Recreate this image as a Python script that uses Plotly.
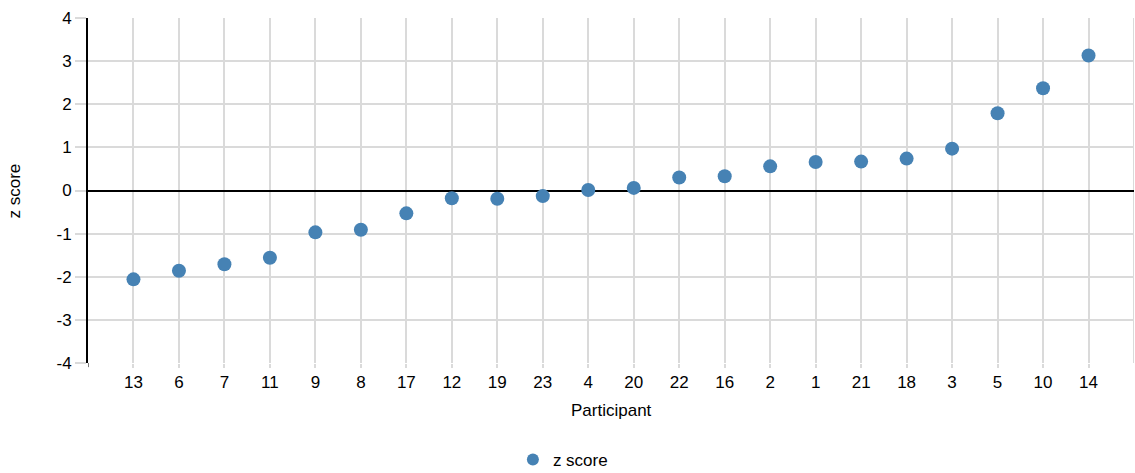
import plotly.graph_objects as go

participants = ["13", "6", "7", "11", "9", "8", "17", "12", "19", "23", "4",
                "20", "22", "16", "2", "1", "21", "18", "3", "5", "10", "14"]
z_scores = [-2.06, -1.86, -1.71, -1.56, -0.97, -0.91, -0.53, -0.18, -0.19, -0.13, 0.01,
            0.06, 0.30, 0.33, 0.56, 0.66, 0.67, 0.74, 0.97, 1.79, 2.37, 3.13]
y_ticks = [-4, -3, -2, -1, 0, 1, 2, 3, 4]

FONT = "Liberation Sans, Arial, sans-serif"
GRID = "#dadada"
FS = 17

fig = go.Figure()
fig.add_trace(go.Scatter(
    x=participants, y=z_scores, mode="markers", name="z score",
    marker=dict(color="#4682b4", size=14),
    showlegend=True,
))

# extra grid line at right edge and small axis tick at left end
fig.add_shape(type="line", xref="x", yref="paper", x0=22, x1=22, y0=0, y1=1,
              line=dict(color=GRID, width=2), layer="below")
fig.add_shape(type="line", xref="x", yref="paper", x0=-1, x1=-1, y0=0, y1=-0.012,
              line=dict(color="#000", width=1))

fig.update_layout(
    width=1135, height=473,
    margin=dict(l=88, r=1, t=18, b=110),
    paper_bgcolor="white", plot_bgcolor="white",
    font=dict(family=FONT, size=FS, color="#000"),
    showlegend=True,
    legend=dict(orientation="h", xref="paper", x=0.454, xanchor="center",
                yref="container", y=0.0275, yanchor="middle",
                font=dict(size=FS), itemsizing="constant"),
    xaxis=dict(
        type="category", categoryorder="array", categoryarray=participants,
        range=[-1, 22], automargin=False,
        showgrid=True, gridcolor=GRID, gridwidth=2,
        ticks="outside", ticklen=4, tickcolor=GRID, tickwidth=2,
        tickfont=dict(size=FS),
        showline=False, zeroline=False,
    ),
    yaxis=dict(
        range=[-4, 4], tickvals=y_ticks, ticktext=[str(v) for v in y_ticks],
        automargin=False,
        showgrid=True, gridcolor=GRID, gridwidth=2,
        ticks="outside", ticklen=11, tickcolor=GRID, tickwidth=2,
        tickfont=dict(size=FS),
        showline=True, linecolor="#000", linewidth=2,
        zeroline=True, zerolinecolor="#000", zerolinewidth=2,
    ),
    annotations=[
        dict(text="Participant", xref="paper", yref="paper", x=0.5, y=-0.139,
             xanchor="center", yanchor="middle", showarrow=False, font=dict(size=FS)),
        dict(text="z score", xref="paper", yref="paper", x=-0.0698, y=0.5,
             xanchor="center", yanchor="middle", textangle=-90, showarrow=False,
             font=dict(size=FS)),
    ],
)

fig.write_html(
    "out.html",
    config={"displayModeBar": False},
    post_script="document.body.style.margin='0';document.body.style.overflow='hidden';",
)
